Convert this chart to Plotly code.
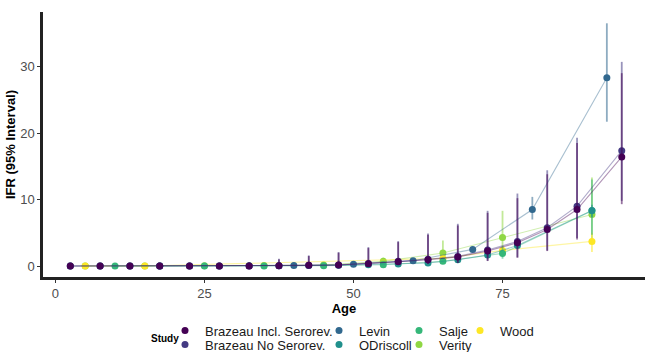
import plotly.graph_objects as go

# ---------------- data ----------------
studies = ["Brazeau Incl. Serorev.", "Brazeau No Serorev.", "Levin", "ODriscoll",
           "Salje", "Verity", "Wood"]
colors = ["#440154", "#443A83", "#31688E", "#21908C", "#35B779", "#8FD744", "#FDE725"]

brazeau_age = [2.5, 7.5, 12.5, 17.5, 22.5, 27.5, 32.5, 37.5, 42.5, 47.5, 52.5,
               57.5, 62.5, 67.5, 72.5, 77.5, 82.5, 87.5, 95]
incl_ifr = [0.0, 0.0, 0.0, 0.0, 0.01, 0.01, 0.02, 0.05, 0.1, 0.15, 0.35,
            0.65, 0.95, 1.35, 2.25, 3.5, 5.5, 8.5, 16.4]
incl_lo = [0.0, 0.0, 0.0, 0.0, 0.0, 0.0, 0.01, 0.01, 0.03, 0.05, 0.1,
           0.18, 0.3, 0.45, 0.75, 1.25, 2.25, 4.0, 9.3]
incl_hi = [0.01, 0.01, 0.01, 0.02, 0.04, 0.1, 0.5, 1.0, 1.5, 2.0, 2.7,
           3.6, 4.7, 6.1, 8.0, 10.2, 13.8, 18.5, 29.0]
no_ifr = [0.0, 0.0, 0.0, 0.0, 0.01, 0.01, 0.02, 0.05, 0.11, 0.17, 0.38,
          0.7, 1.02, 1.45, 2.4, 3.7, 5.75, 9.0, 17.35]
no_lo = [0.0, 0.0, 0.0, 0.0, 0.0, 0.0, 0.01, 0.01, 0.03, 0.05, 0.11,
         0.2, 0.32, 0.48, 0.8, 1.3, 2.35, 4.2, 9.8]
no_hi = [0.01, 0.01, 0.01, 0.02, 0.05, 0.12, 0.6, 1.1, 1.6, 2.1, 2.85,
         3.75, 4.9, 6.35, 8.3, 10.9, 14.4, 19.3, 30.7]

levin_age = [17.5, 40, 50, 60, 70, 80, 92.5]
levin_ifr = [0.004, 0.07, 0.25, 0.8, 2.5, 8.5, 28.3]
levin_lo = [0.002, 0.06, 0.2, 0.66, 2.2, 7.0, 21.7]
levin_hi = [0.006, 0.08, 0.3, 0.95, 2.9, 10.4, 36.5]

odriscoll_age = [2.5, 7.5, 12.5, 17.5, 22.5, 27.5, 32.5, 37.5, 42.5, 47.5,
                 52.5, 57.5, 62.5, 67.5, 72.5, 77.5, 90]
odriscoll_ifr = [0.003, 0.001, 0.001, 0.003, 0.006, 0.013, 0.024, 0.04, 0.075,
                 0.121, 0.207, 0.3, 0.45, 0.95, 1.65, 3.1, 8.35]
odriscoll_lo = [0.002, 0.0, 0.0, 0.002, 0.005, 0.011, 0.021, 0.036, 0.068,
                0.11, 0.19, 0.27, 0.41, 0.86, 1.5, 2.8, 7.35]
odriscoll_hi = [0.004, 0.002, 0.002, 0.004, 0.007, 0.015, 0.027, 0.045, 0.083,
                0.133, 0.227, 0.33, 0.5, 1.05, 1.8, 3.4, 9.2]

salje_age = [10, 25, 35, 45, 55, 65, 75, 90]
salje_ifr = [0.001, 0.005, 0.02, 0.05, 0.2, 0.7, 1.9, 8.3]
salje_lo = [0.0006, 0.003, 0.01, 0.03, 0.1, 0.4, 1.1, 4.7]
salje_hi = [0.002, 0.009, 0.03, 0.08, 0.3, 1.0, 3.0, 13.0]

verity_age = [5, 15, 25, 35, 45, 55, 65, 75, 90]
verity_ifr = [0.0016, 0.007, 0.031, 0.084, 0.16, 0.7, 1.95, 4.3, 7.75]
verity_lo = [0.0002, 0.001, 0.015, 0.049, 0.073, 0.27, 0.86, 1.85, 3.8]
verity_hi = [0.007, 0.03, 0.08, 0.19, 0.36, 1.27, 3.85, 8.3, 13.3]

wood_age = [5, 15, 65, 75, 90]
wood_ifr = [0.001, 0.003, 1.15, 2.35, 3.7]
wood_lo = [0.0005, 0.002, 0.9, 1.9, 2.1]
wood_hi = [0.002, 0.005, 1.4, 2.9, 5.0]

series = {
    "Brazeau Incl. Serorev.": (brazeau_age, incl_ifr, incl_lo, incl_hi),
    "Brazeau No Serorev.": (brazeau_age, no_ifr, no_lo, no_hi),
    "Levin": (levin_age, levin_ifr, levin_lo, levin_hi),
    "ODriscoll": (odriscoll_age, odriscoll_ifr, odriscoll_lo, odriscoll_hi),
    "Salje": (salje_age, salje_ifr, salje_lo, salje_hi),
    "Verity": (verity_age, verity_ifr, verity_lo, verity_hi),
    "Wood": (wood_age, wood_ifr, wood_lo, wood_hi),
}

x_ticks = [0, 25, 50, 75]
y_ticks = [0, 10, 20, 30]


def rgba(hex_color, a):
    h = hex_color.lstrip("#")
    r, g, b = int(h[0:2], 16), int(h[2:4], 16), int(h[4:6], 16)
    return f"rgba({r},{g},{b},{a})"


color_of = dict(zip(studies, colors))
FONT = "Liberation Sans, Arial, Helvetica, sans-serif"

W, H = 645, 352
ML, MR, MT, MB = 43, 0, 12, 75
PW, PH = W - ML - MR, H - MT - MB

fig = go.Figure()

draw_order = ["Verity", "Wood", "Salje", "ODriscoll", "Levin",
              "Brazeau No Serorev.", "Brazeau Incl. Serorev."]
for name in draw_order:
    age, ifr, lo, hi = series[name]
    c = color_of[name]
    fig.add_trace(go.Scatter(
        x=age, y=ifr, mode="lines+markers", name=name, showlegend=False,
        line=dict(color=rgba(c, 0.42), width=1.1),
        marker=dict(color=c, size=7, line=dict(width=0)),
        error_y=dict(type="data", symmetric=False,
                     array=[h - v for h, v in zip(hi, ifr)],
                     arrayminus=[v - l for v, l in zip(ifr, lo)],
                     color=rgba(c, 0.55), thickness=1.8, width=0),
        cliponaxis=False,
    ))

# legend: one single-item legend per entry, laid out in the reference's grid
col_x = [165, 319, 399, 460]
row_y = [330.5, 344.5]
grid = [("Brazeau Incl. Serorev.", 0, 0), ("Brazeau No Serorev.", 0, 1),
        ("Levin", 1, 0), ("ODriscoll", 1, 1),
        ("Salje", 2, 0), ("Verity", 2, 1), ("Wood", 3, 0)]
legend_layouts = {}
for i, (name, col, row) in enumerate(grid):
    key = "legend" if i == 0 else f"legend{i + 1}"
    c = color_of[name]
    fig.add_trace(go.Scatter(
        x=[None], y=[None], mode="markers", name=name, legend=key,
        marker=dict(color=c, size=7, symbol="circle"),
    ))
    legend_layouts[key] = dict(
        x=(col_x[col] - ML) / PW, y=(H - MB - row_y[row]) / PH,
        xref="paper", yref="paper",
        xanchor="left", yanchor="middle", bgcolor="rgba(0,0,0,0)",
        font=dict(family=FONT, size=13, color="#1a1a1a"),
        itemclick=False, itemdoubleclick=False, borderwidth=0,
    )

fig.update_layout(
    width=W, height=H,
    margin=dict(l=ML, r=MR, t=MT, b=MB, autoexpand=False),
    paper_bgcolor="white", plot_bgcolor="white",
    font=dict(family=FONT, color="#1a1a1a"),
    xaxis=dict(range=[-2.08, 98.9], tickvals=x_ticks, showgrid=False, zeroline=False,
               showline=True, linecolor="#222222", linewidth=2.5,
               ticks="outside", ticklen=3, tickcolor="#333333", tickwidth=1,
               tickfont=dict(family=FONT, size=13, color="#4d4d4d"),
               title=dict(text="<b>Age</b>", font=dict(family=FONT, size=13, color="#000"),
                          standoff=4)),
    yaxis=dict(range=[-1.65, 38.2], tickvals=y_ticks, showgrid=False, zeroline=False,
               showline=True, linecolor="#222222", linewidth=2.5,
               ticks="outside", ticklen=3, tickcolor="#333333", tickwidth=1,
               tickfont=dict(family=FONT, size=13, color="#4d4d4d"),
               title=dict(text="<b>IFR (95% Interval)</b>",
                          font=dict(family=FONT, size=13, color="#000"), standoff=2)),
    annotations=[dict(text="<b>Study</b>", xref="paper", yref="paper",
                      x=(165 - ML) / PW, y=(H - MB - 338) / PH,
                      xanchor="center", yanchor="middle", showarrow=False,
                      font=dict(family=FONT, size=10, color="#000"))],
    **legend_layouts,
)

fig.write_html("out.html")
